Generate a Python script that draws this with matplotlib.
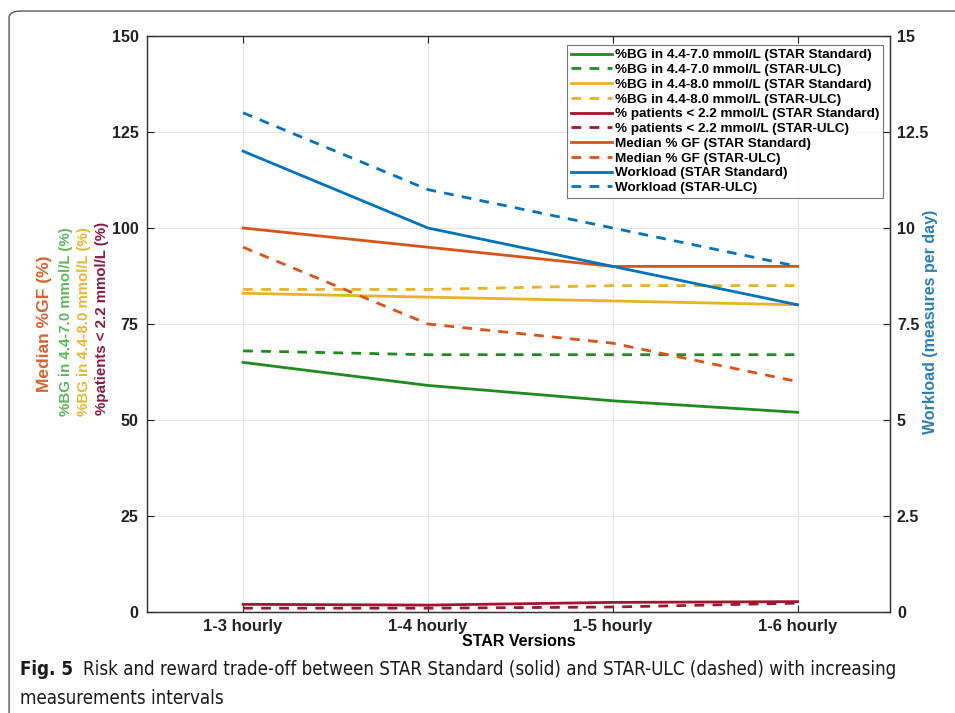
import matplotlib
matplotlib.use("Agg")
import matplotlib.pyplot as plt
from matplotlib.patches import FancyBboxPatch

plt.rcParams['font.family'] = ['Liberation Sans', 'DejaVu Sans']

categories = ["1-3 hourly", "1-4 hourly", "1-5 hourly", "1-6 hourly"]
bg70_std = [65, 59, 55, 52]
bg70_ulc = [68, 67, 67, 67]
bg80_std = [83, 82, 81, 80]
bg80_ulc = [84, 84, 85, 85]
hypo_std = [2.0, 1.8, 2.5, 2.7]
hypo_ulc = [1.0, 1.0, 1.3, 2.3]
gf_std = [100, 95, 90, 90]
gf_ulc = [95, 75, 70, 60]
work_std = [12, 10, 9, 8]
work_ulc = [13, 11, 10, 9]

left_ticks = [0, 25, 50, 75, 100, 125, 150]
right_ticks = [0, 2.5, 5, 7.5, 10, 12.5, 15]
right_labels = ["0", "2.5", "5", "7.5", "10", "12.5", "15"]

c_green = "#1f8a1f"
c_yellow = "#e8b224"
c_red = "#a2142f"
c_orange = "#d95319"
c_blue = "#0072bd"

W, H = 955, 713
fig = plt.figure(figsize=(9.55, 7.13), dpi=100)
ax = fig.add_axes([147 / W, 1 - 612 / H, (890 - 147) / W, (612 - 36) / H])
ax2 = ax.twinx()

x = list(range(1, len(categories) + 1))
lw = 2.0
dash = (0, (3.5, 3.0))
l1, = ax.plot(x, bg70_std, color=c_green, lw=lw, label="%BG in 4.4-7.0 mmol/L (STAR Standard)")
l2, = ax.plot(x, bg70_ulc, color=c_green, lw=lw, ls=dash, label="%BG in 4.4-7.0 mmol/L (STAR-ULC)")
l3, = ax.plot(x, bg80_std, color=c_yellow, lw=lw, label="%BG in 4.4-8.0 mmol/L (STAR Standard)")
l4, = ax.plot(x, bg80_ulc, color=c_yellow, lw=lw, ls=dash, label="%BG in 4.4-8.0 mmol/L (STAR-ULC)")
l5, = ax.plot(x, hypo_std, color=c_red, lw=lw, label="% patients < 2.2 mmol/L (STAR Standard)")
l6, = ax.plot(x, hypo_ulc, color=c_red, lw=lw, ls=dash, label="% patients < 2.2 mmol/L (STAR-ULC)")
l7, = ax.plot(x, gf_std, color=c_orange, lw=lw, label="Median % GF (STAR Standard)")
l8, = ax.plot(x, gf_ulc, color=c_orange, lw=lw, ls=dash, label="Median % GF (STAR-ULC)")
l9, = ax2.plot(x, work_std, color=c_blue, lw=lw, label="Workload (STAR Standard)")
l10, = ax2.plot(x, work_ulc, color=c_blue, lw=lw, ls=dash, label="Workload (STAR-ULC)")

ax.set_xlim(0.48, 4.5)
ax.set_ylim(0, 150)
ax2.set_ylim(0, 15)
ax.set_xticks(x)
ax.set_xticklabels(categories, fontsize=12, fontweight='bold')
ax.set_yticks(left_ticks)
ax.set_yticklabels([str(t) for t in left_ticks], fontsize=11.5, fontweight='bold')
ax2.set_yticks(right_ticks)
ax2.set_yticklabels(right_labels, fontsize=11.5, fontweight='bold')
ax.grid(True, color="#e6e6e6", lw=0.8)
ax.set_axisbelow(True)
for a in (ax, ax2):
    for s in a.spines.values():
        s.set_color("#333333")
        s.set_linewidth(0.9)
    a.tick_params(direction='in', length=5, width=0.8, colors="#222222", pad=6)
ax2.tick_params(pad=5)
ax.tick_params(axis='x', top=True, pad=5)

ax.set_xlabel("STAR Versions", fontsize=11.5, fontweight='bold', labelpad=0)
fig.text(930 / W, 1 - 322 / H, "Workload (measures per day)", rotation=90, fontsize=11.5,
         fontweight='bold', color="#2a7fb5", ha='center', va='center')

# multi-colored left y-label
ylab = [("Median %GF (%)", "#d9622b", 45, 324, 12.5),
        ("%BG in 4.4-7.0 mmol/L (%)", "#5cb85c", 66, 322, 10.8),
        ("%BG in 4.4-8.0 mmol/L (%)", "#e8b730", 84, 322, 10.8),
        ("%patients < 2.2 mmol/L (%)", "#8b1a3a", 102, 318, 10.8)]
for t, c, px, py, fs in ylab:
    fig.text(px / W, 1 - py / H, t, rotation=90, color=c, fontsize=fs, fontweight='bold',
             ha='center', va='center')

handles = [l1, l2, l3, l4, l5, l6, l7, l8, l9, l10]
leg = ax.legend(handles=handles, loc='upper right',
                bbox_to_anchor=(883 / W, 1 - 45 / H), bbox_transform=fig.transFigure,
                prop={'size': 9.7, 'weight': 'bold'}, frameon=True, fancybox=False,
                edgecolor="#555555", labelspacing=0.17, handlelength=3.0,
                handletextpad=0.2, borderpad=0.3, borderaxespad=0.0)
leg.get_frame().set_linewidth(0.8)
leg.set_zorder(10)

# rounded frame
frame = FancyBboxPatch((0.0095, -0.02), 1.2, 1.0045, boxstyle="round,pad=0,rounding_size=0.012",
                       transform=fig.transFigure, fill=False, edgecolor="#555555", lw=1.0,
                       mutation_aspect=H / W)
fig.patches.append(frame)

# caption
cap_family = ['DejaVu Sans']
cap_text = "Risk and reward trade-off between STAR Standard (solid) and STAR-ULC (dashed) with increasing"
fs0 = 12.5
t1 = fig.text(0.021, 0.053, "Fig. 5", fontsize=fs0, fontweight='bold', family=cap_family,
              fontstretch='condensed', color="#1a1a1a", va='baseline')
fig.canvas.draw()
bb = t1.get_window_extent()
x2 = (bb.x1 + 9) / W
t2 = fig.text(x2, 0.053, cap_text, fontsize=fs0, family=cap_family, fontstretch='condensed',
              color="#1a1a1a", va='baseline')
fig.canvas.draw()
w2 = t2.get_window_extent().x1
target = 900.0
s = fs0 * (target - 20) / (w2 - 20)
t1.set_fontsize(s)
t2.set_fontsize(s)
fig.canvas.draw()
bb = t1.get_window_extent()
t2.set_x((bb.x1 + 10) / W)
fig.text(0.021, 0.0126, "measurements intervals", fontsize=s, family=cap_family,
         fontstretch='condensed', color="#1a1a1a", va='baseline')

fig.savefig("out.png", dpi=100)
